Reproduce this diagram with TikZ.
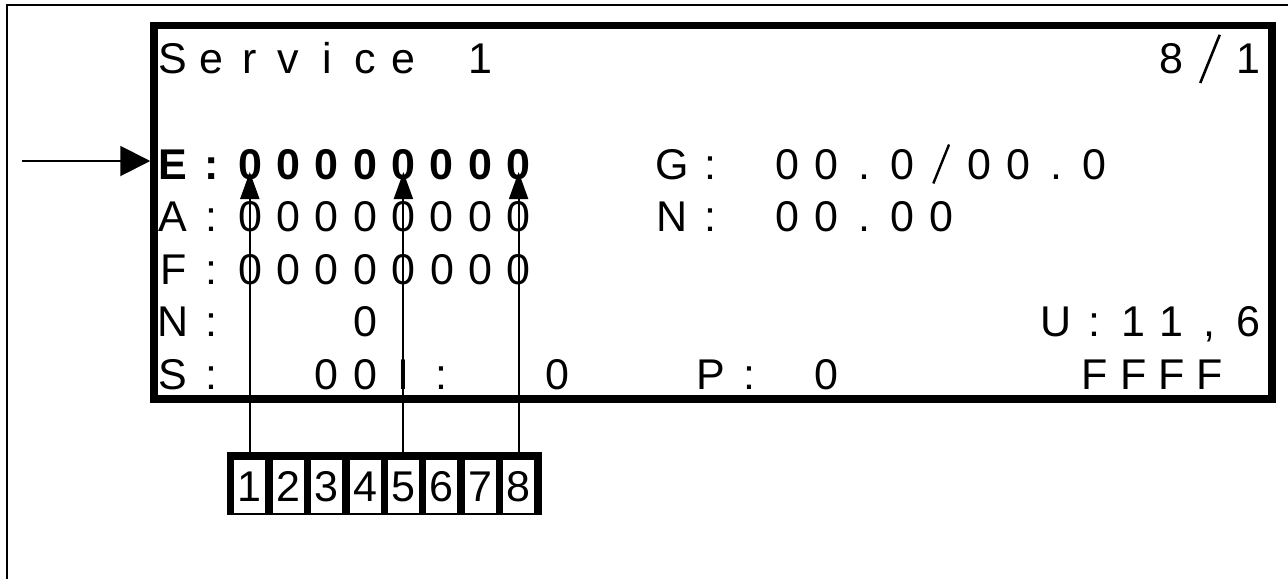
\documentclass[tikz,border=0pt]{standalone}
\usepackage{fontspec}
\setmainfont{Liberation Sans}
\usepackage{graphicx}
\usetikzlibrary{arrows.meta}

\newlength{\lcdpitch}
\setlength{\lcdpitch}{38.4pt}
\newcommand{\lcdfont}{\fontsize{43pt}{48pt}\selectfont}
\newcommand{\bigslash}{\raisebox{-9.5pt}{\rotatebox{-22}{\rule{2.6pt}{52pt}}}}
\newcommand{\midslash}{\raisebox{-4pt}{\rotatebox{-22}{\rule{2.4pt}{42pt}}}}
% one character per display cell, '-' leaves the cell empty
\def\lcdline#1{\lcdloop#1\relax}
\def\lcdloop#1{\ifx\relax#1\else\ifx-#1\hspace*{\lcdpitch}\else\makebox[\lcdpitch][c]{#1}\fi\expandafter\lcdloop\fi}

\begin{document}
\begin{tikzpicture}[x=1pt, y=-1pt,
    lcdtext/.style={inner sep=0pt, anchor=base west, font=\lcdfont},
    pointer/.style={-{Triangle[length=27pt,width=19pt]}, line width=2pt},
    cell/.style={fill=white, inner sep=0pt, minimum width=31pt, minimum height=53pt, font=\lcdfont}]

\useasboundingbox (0,0) rectangle (1288,579);

% outer frame, runs off the page right and below
\draw[line width=2.3pt] (7,579) -- (7,5.3) -- (1288,5.3);

% display frame
\node[draw, line width=7.5pt, minimum width=1118pt, minimum height=373.5pt, inner sep=0pt] (lcd) at (713,212.25) {};

% display lines (column 0 starts at x=153.8)
\node[lcdtext] (title) at (153.8,73) {\lcdline{Service-1}};
\node[lcdtext] (page) at (1152.2,73) {\lcdline{8\bigslash1}};

\node[lcdtext, font=\lcdfont\bfseries] (rowE) at (153.8,179) {\lcdline{E:00000000}};
\node[lcdtext] (rowG) at (653,179) {\lcdline{G:-00.0\midslash00.0}};

\node[lcdtext] (rowA) at (153.8,231.5) {\lcdline{A:00000000}};
\node[lcdtext] (rowN) at (653,231.5) {\lcdline{N:-00.00}};

\node[lcdtext] (rowF) at (153.8,284) {\lcdline{F:00000000}};

\node[lcdtext] (rowNr) at (153.8,336.5) {\lcdline{N:---0}};
\node[lcdtext] (rowU) at (1037,336.5) {\lcdline{U:11,6}};

\node[lcdtext] (rowS) at (153.8,389) {\lcdline{S:--00I:--0}};
\node[lcdtext] (rowP) at (691.4,389) {\lcdline{P:-0}};
\node[lcdtext] (rowFF) at (1075.4,389) {\lcdline{FFFF}};

% digit selector
\fill (226.9,452) rectangle (541.5,515);
\node[cell] (d1) at (249.8,486.5) {1};
\node[cell] (d2) at (288.2,486.5) {2};
\node[cell] (d3) at (326.6,486.5) {3};
\node[cell] (d4) at (365,486.5) {4};
\node[cell] (d5) at (403.4,486.5) {5};
\node[cell] (d6) at (441.8,486.5) {6};
\node[cell] (d7) at (480.2,486.5) {7};
\node[cell] (d8) at (518.6,486.5) {8};

% pointer tips in the E line
\coordinate (t1) at (249.8,172);
\coordinate (t5) at (403.4,172);
\coordinate (t8) at (518.6,172);

\draw[pointer] (d1.north) -- (t1);
\draw[pointer] (d5.north) -- (t5);
\draw[pointer] (d8.north) -- (t8);

% marker for the selected line
\coordinate (mark) at (22,161);
\draw[-{Triangle[length=30pt,width=30pt]}, line width=2pt] (mark) -- (lcd.west |- mark);
\end{tikzpicture}
\end{document}
